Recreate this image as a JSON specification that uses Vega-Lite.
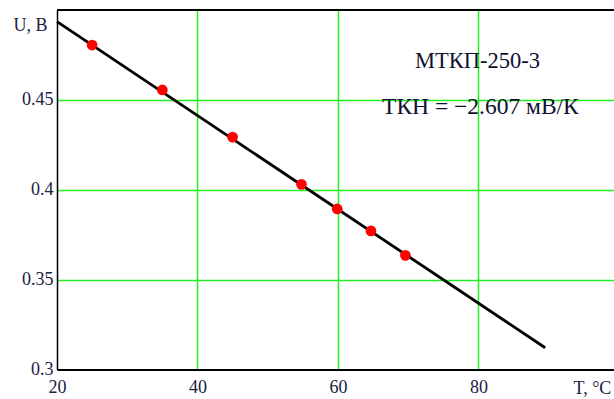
{
  "$schema": "https://vega.github.io/schema/vega-lite/v6.json",
  "width": 557,
  "height": 359.5,
  "autosize": "none",
  "padding": {"left": 57, "top": 10, "right": 0, "bottom": 29.5},
  "background": "white",
  "config": {
    "view": {"stroke": null},
    "axis": {
      "labelFont": "Liberation Serif, Times New Roman, DejaVu Serif, serif",
      "labelFontSize": 18,
      "labelColor": "#202040",
      "titleFont": "Liberation Serif, Times New Roman, DejaVu Serif, serif",
      "titleFontSize": 18,
      "titleFontWeight": "normal",
      "titleColor": "#202040",
      "ticks": false,
      "tickSize": 0,
      "domainColor": "#000000",
      "gridColor": "#22ee22",
      "gridWidth": 1.5,
      "gridOpacity": 1
    }
  },
  "datasets": {
    "fit": [
      {"T": 20, "U": 0.4935},
      {"T": 89.5, "U": 0.3121}
    ],
    "measured": [
      {"T": 25, "U": 0.4805},
      {"T": 35, "U": 0.4555},
      {"T": 45, "U": 0.4293},
      {"T": 54.8, "U": 0.4030},
      {"T": 59.9, "U": 0.3893},
      {"T": 64.7, "U": 0.3771},
      {"T": 69.6, "U": 0.3635}
    ],
    "notes": [
      {"T": 79.86, "U": 0.468, "label": "МТКП-250-3", "fs": 22.5},
      {"T": 80.28, "U": 0.4421, "label": "ТКН = −2.607 мВ/К", "fs": 23.5}
    ]
  },
  "layer": [
    {
      "data": {"name": "fit"},
      "mark": {"type": "line", "color": "#000000", "strokeWidth": 2.8},
      "encoding": {
        "x": {
          "field": "T", "type": "quantitative",
          "scale": {"domain": [20, 99.3], "nice": false, "zero": false},
          "axis": {
            "values": [20, 40, 60, 80],
            "title": "T, °C",
            "titleX": 516, "titleY": 23.5,
            "titleAlign": "left", "titleBaseline": "alphabetic", "titleAnchor": null,
            "labelPadding": 9,
            "labelFlush": false,
            "domainWidth": 2,
            "gridColor": {"condition": {"test": "datum.value <= 20", "value": "transparent"}, "value": "#22ee22"}
          }
        },
        "y": {
          "field": "U", "type": "quantitative",
          "scale": {"domain": [0.3, 0.5], "nice": false, "zero": false},
          "axis": {
            "values": [0.3, 0.35, 0.4, 0.45],
            "format": ".2~f",
            "title": "U, B",
            "titleAngle": 0,
            "titleX": -10, "titleY": 20,
            "titleAlign": "right", "titleBaseline": "alphabetic", "titleAnchor": null,
            "labelPadding": 4,
            "labelFlush": false,
            "labelBaseline": "middle",
            "domainWidth": 1.5,
            "gridColor": {"condition": {"test": "datum.value <= 0.3", "value": "transparent"}, "value": "#22ee22"}
          }
        }
      }
    },
    {
      "data": {"name": "measured"},
      "mark": {"type": "point", "filled": true, "color": "#ff0000", "size": 115, "opacity": 1},
      "encoding": {
        "x": {"field": "T", "type": "quantitative"},
        "y": {"field": "U", "type": "quantitative"}
      }
    },
    {
      "data": {"name": "measured"},
      "mark": {"type": "rule", "color": "#000000", "strokeWidth": 1.5},
      "encoding": {
        "y": {"datum": 0.5}
      }
    },
    {
      "data": {"name": "notes"},
      "mark": {"type": "text", "font": "Liberation Serif, Times New Roman, DejaVu Serif, serif", "color": "#101030", "align": "center", "baseline": "alphabetic"},
      "encoding": {
        "x": {"field": "T", "type": "quantitative"},
        "y": {"field": "U", "type": "quantitative"},
        "text": {"field": "label"},
        "size": {"field": "fs", "type": "quantitative", "scale": null, "legend": null}
      }
    }
  ]
}
